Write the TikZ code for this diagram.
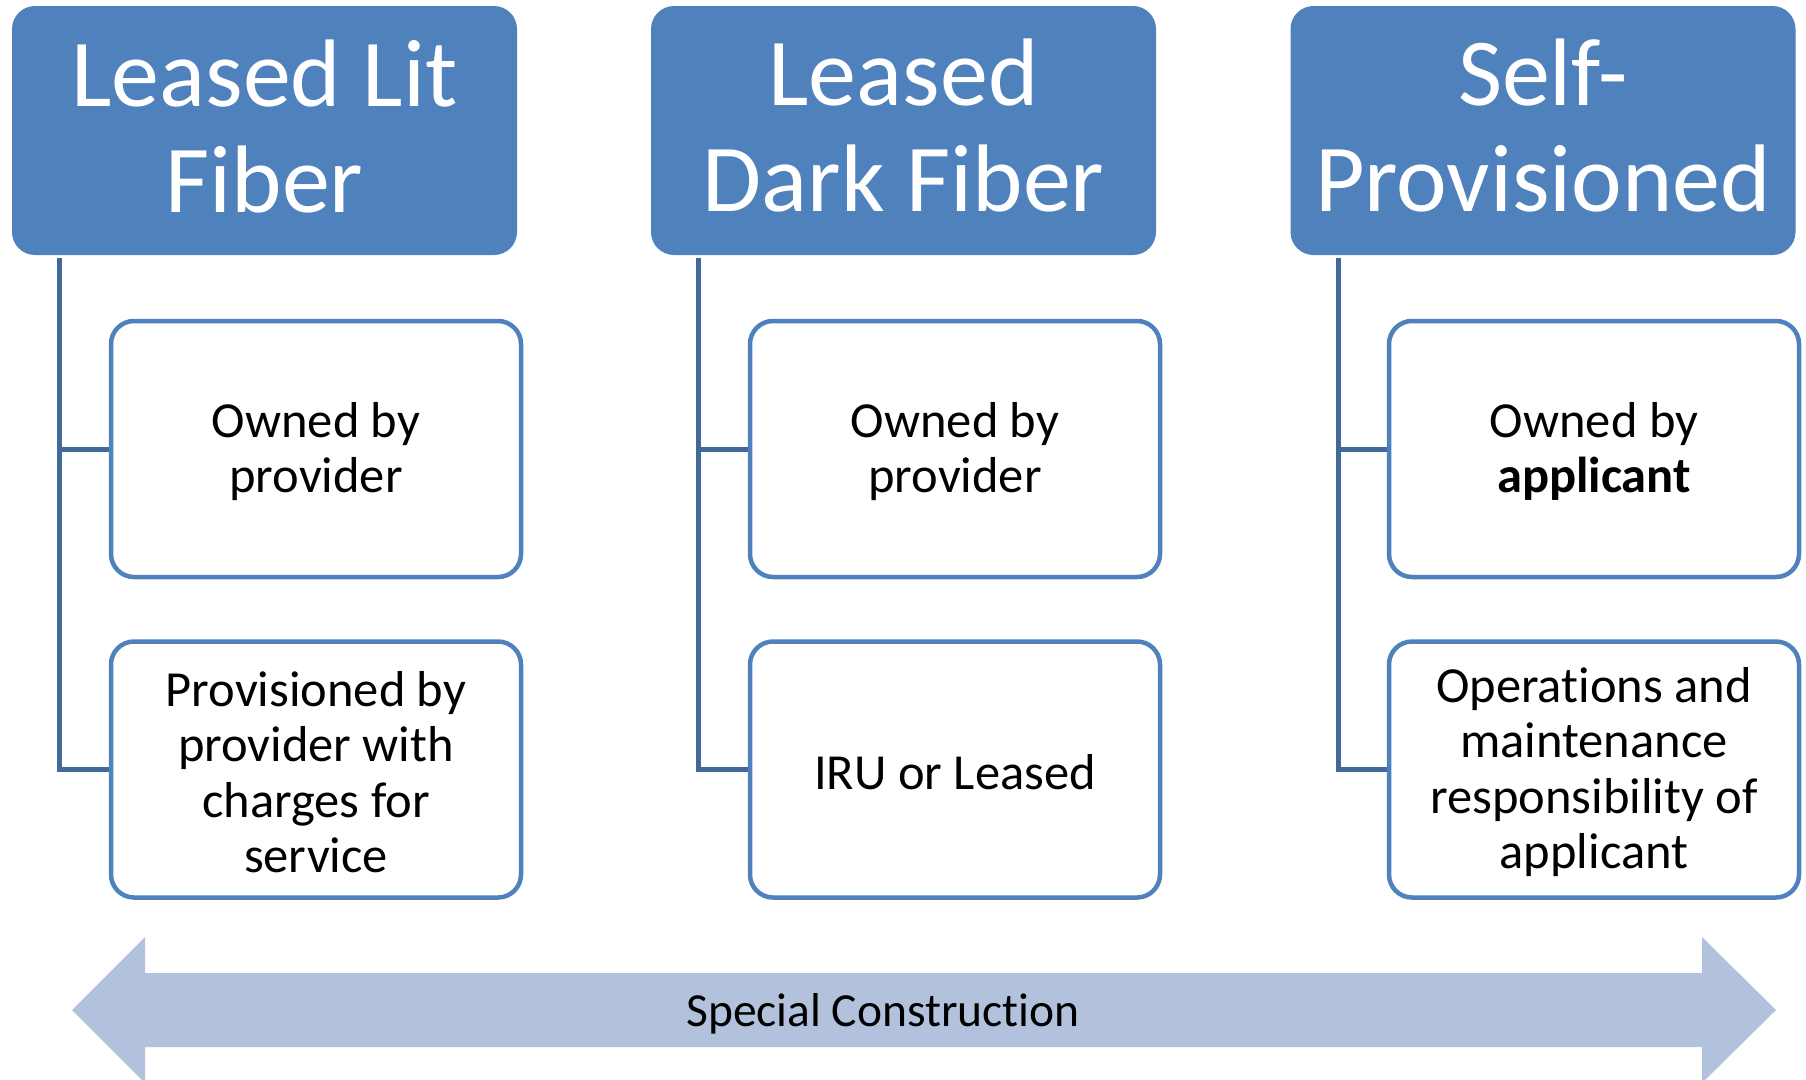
\documentclass[tikz,border=0pt]{standalone}
\usepackage{fontspec}
\setmainfont{Carlito}[Ligatures=NoCommon]
\definecolor{hdrblue}{HTML}{4F81BD}
\definecolor{linkblue}{HTML}{41699A}
\definecolor{bandblue}{HTML}{B3C2DC}
\tikzset{
  header/.style={rectangle, rounded corners=23pt, fill=hdrblue, draw=none,
    minimum width=505pt, minimum height=249pt, inner sep=0pt},
  headtext/.style={text=white, align=center,
    font=\fontsize{96}{106}\selectfont, inner sep=0pt},
  item/.style={rectangle, rounded corners=23pt, fill=white, draw=hdrblue,
    line width=4.5pt, minimum width=410pt, minimum height=256pt, inner sep=0pt},
  itemtext/.style={text=black, align=center,
    font=\fontsize{50.5}{55.5}\selectfont, inner sep=0pt},
  link/.style={draw=linkblue, line width=5pt},
}
\begin{document}
\begin{tikzpicture}[x=1pt, y=-1pt]
  \useasboundingbox (0,0) rectangle (1806,1079);
  \clip (0,0) rectangle (1806,1079);

  % column headers
  \node[header] (h1) at (264.5,130.5) {};
  \node[header] (h2) at (903.5,130.5) {};
  \node[header] (h3) at (1543,130.5) {};
  \node[headtext] (h1t) at ([yshift=4.5pt]h1.center) {Leased Lit\\Fiber};
  \node[headtext] (h2t) at ([yshift=4.5pt]h2.center) {Leased\\Dark Fiber};
  \node[headtext] (h3t) at ([yshift=4.5pt]h3.center) {Self-\\Provisioned};

  % items under each header
  \node[item] (a1) at (316,449) {};
  \node[item] (a2) at (316,769.5) {};
  \node[item] (b1) at (955,449) {};
  \node[item] (b2) at (955,769.5) {};
  \node[item] (c1) at (1594,449) {};
  \node[item] (c2) at (1594,769.5) {};
  \node[itemtext] (a1t) at ([yshift=-2.5pt]a1.center) {Owned by\\provider};
  \node[itemtext] (a2t) at ([yshift=-2.5pt]a2.center) {Provisioned by\\provider with\\charges for\\service};
  \node[itemtext] (b1t) at ([yshift=-2.5pt]b1.center) {Owned by\\provider};
  \node[itemtext] (b2t) at ([yshift=-2.5pt]b2.center) {IRU or Leased};
  \node[itemtext] (c1t) at ([yshift=-2.5pt]c1.center) {Owned by\\\textbf{applicant}};
  \node[itemtext] (c2t) at ([yshift=-2.5pt]c2.center) {Operations and\\maintenance\\responsibility of\\applicant};

  % tree connectors
  \foreach \h/\p/\q in {h1/a1/a2, h2/b1/b2, h3/c1/c2} {
    \coordinate (\h-top) at ([xshift=48pt, yshift=-3pt]\h.south west);
    \draw[link] (\h-top) |- (\p.west);
    \draw[link] (\h-top) |- (\q.west);
  }

  % double-headed band along the bottom
  \fill[bandblue] (72,1010) -- (145,937) -- (145,973) -- (1702,973) -- (1702,937)
    -- (1776,1010) -- (1702,1083) -- (1702,1047) -- (145,1047) -- (145,1083) -- cycle;
  \node[font=\fontsize{47.5}{52}\selectfont, text=black] (band) at (883,1014) {Special Construction};
\end{tikzpicture}
\end{document}
